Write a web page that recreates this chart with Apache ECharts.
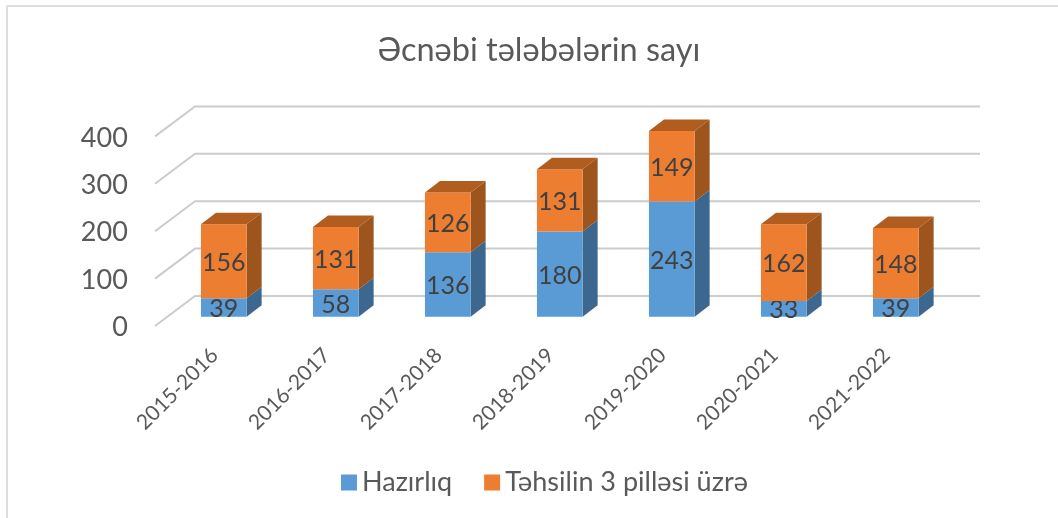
<!DOCTYPE html>
<html>
<head>
<meta charset="utf-8">
<style>
    html, body { margin: 0; padding: 0; background: #fff; }
    #chart { width: 1058px; height: 518px; filter: blur(0.5px); }
</style>
<script src="https://cdn.jsdelivr.net/npm/echarts@6/dist/echarts.min.js"></script>
</head>
<body>
<div id="chart"></div>
<script>
var categories = ['2015-2016', '2016-2017', '2017-2018', '2018-2019', '2019-2020', '2020-2021', '2021-2022'];
var hazirliq = [39, 58, 136, 180, 243, 33, 39];
var tehsil = [156, 131, 126, 131, 149, 162, 148];
var yTicks = [0, 100, 200, 300, 400];

var FONT = 'Lato, "Open Sans", sans-serif';
var TEXT = '#595959';
var DEPTH_X = 15, DEPTH_Y = -11.5;
var BAR_RATIO = 0.408;

function poly(points, color) {
    return { type: 'polygon', shape: { points: points }, style: { fill: color } };
}

// one stacked segment: front, side and top face, plus the value label
function segment(values, bases, front, side, top) {
    return function (params, api) {
        var i = api.value(0);
        var w = api.size([1, 0])[0] * BAR_RATIO;
        var a = api.coord([i, bases ? bases[i] : 0]);
        var b = api.coord([i, (bases ? bases[i] : 0) + values[i]]);
        var l = a[0] - w / 2, r = a[0] + w / 2;
        var children = [
            poly([[r, a[1]], [r + DEPTH_X, a[1] + DEPTH_Y], [r + DEPTH_X, b[1] + DEPTH_Y], [r, b[1]]], side),
            poly([[l, a[1]], [r, a[1]], [r, b[1]], [l, b[1]]], front)
        ];
        if (top) {
            children.push(poly([[l, b[1]], [r, b[1]], [r + DEPTH_X, b[1] + DEPTH_Y], [l + DEPTH_X, b[1] + DEPTH_Y]], top));
        }
        children.push({
            type: 'text',
            z2: 10,
            style: {
                x: a[0], y: (a[1] + b[1]) / 2 + 1.5,
                text: String(values[i]),
                align: 'center', verticalAlign: 'middle',
                fill: '#404040', fontSize: 25, fontFamily: FONT
            }
        });
        return { type: 'group', children: children };
    };
}

// gridline on the back wall with its diagonal on the side wall
function wallLine(params, api) {
    var p = api.coord([0, api.value(0)]);
    var left = params.coordSys.x, right = left + params.coordSys.width;
    return {
        type: 'polyline',
        shape: { points: [[left - 12.8, p[1] + 9.3], [left + 27.2, p[1] - 20.7], [right + 28.2, p[1] - 20.7]] },
        style: { fill: null, stroke: '#cccccc', lineWidth: 2 }
    };
}

var option = {
    backgroundColor: '#fff',
    animation: false,
    title: {
        text: 'Əcnəbi tələbələrin sayı',
        left: 534, top: 29, textAlign: 'center',
        textStyle: { fontFamily: FONT, fontSize: 32.5, fontWeight: 'normal', color: TEXT }
    },
    legend: {
        data: ['Hazırlıq', 'Təhsilin 3 pilləsi üzrə'],
        left: 336, top: 464,
        icon: 'rect', itemWidth: 16, itemHeight: 16, itemGap: 32,
        textStyle: { fontFamily: FONT, fontSize: 27, color: TEXT }
    },
    grid: [
        { left: 167.8, top: 127.1, width: 784, height: 189.6 },
        // the tick labels sit on the front edge of the floor, a little lower than the bars
        { left: 167.8, top: 137.9, width: 784, height: 189.6 }
    ],
    xAxis: [
        {
            type: 'category',
            data: categories,
            axisLine: { show: false },
            axisTick: { show: false },
            axisLabel: { rotate: 45, margin: 26, padding: [0, 13, 0, 0], fontFamily: FONT, fontSize: 21, color: TEXT, interval: 0 }
        },
        { type: 'category', gridIndex: 1, data: categories, show: false }
    ],
    yAxis: [
        {
            type: 'value',
            min: 0, max: 400, interval: 100,
            axisLine: { show: false },
            axisTick: { show: false },
            axisLabel: { show: false },
            splitLine: { show: false }
        },
        {
            type: 'value',
            gridIndex: 1,
            min: 0, max: 400, interval: 100,
            axisLine: { show: false },
            axisTick: { show: false },
            splitLine: { show: false },
            axisLabel: { margin: 40, fontFamily: FONT, fontSize: 27, color: TEXT }
        }
    ],
    graphic: [
        { type: 'line', shape: { x1: 7, y1: 6, x2: 7, y2: 518 }, style: { stroke: '#dedede', lineWidth: 2 } },
        { type: 'line', shape: { x1: 7, y1: 6, x2: 1058, y2: 6 }, style: { stroke: '#dedede', lineWidth: 2 } }
    ],
    series: [
        {
            type: 'custom', z: 1,
            encode: { x: 1, y: 0 },
            data: yTicks.map(function (v) { return [v, 0]; }),
            renderItem: wallLine
        },
        {
            name: 'Hazırlıq', type: 'custom', z: 2,
            itemStyle: { color: '#5b9bd5' },
            encode: { x: 0 },
            data: categories.map(function (c, i) { return [i]; }),
            renderItem: segment(hazirliq, null, '#5b9bd5', '#3c678f', null)
        },
        {
            name: 'Təhsilin 3 pilləsi üzrə', type: 'custom', z: 3,
            itemStyle: { color: '#ed7d31' },
            encode: { x: 0 },
            data: categories.map(function (c, i) { return [i]; }),
            renderItem: segment(tehsil, hazirliq, '#ed7d31', '#9e541d', '#b25d20')
        }
    ]
};

var chart = echarts.init(document.getElementById('chart'));
chart.setOption(option);
</script>
</body>
</html>
